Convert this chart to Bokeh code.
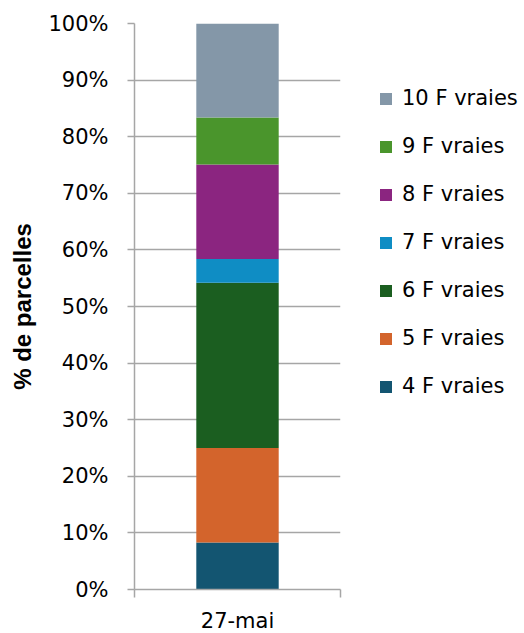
from bokeh.plotting import figure
from bokeh.models import (Range1d, FixedTicker, PrintfTickFormatter, Legend, LegendItem,
                          ColumnDataSource)
from bokeh.embed import file_html
from bokeh.resources import INLINE

categories = ["27-mai"]
series = ["4 F vraies", "5 F vraies", "6 F vraies", "7 F vraies",
          "8 F vraies", "9 F vraies", "10 F vraies"]
values = [8.3, 16.7, 29.2, 4.2, 16.7, 8.3, 16.6]
colors = ["#135571", "#D3642C", "#1B5E20", "#0F8DC4",
          "#8B2580", "#4A952C", "#8497A8"]
y_ticks = [0, 10, 20, 30, 40, 50, 60, 70, 80, 90, 100]

FONT = "DejaVu Sans"
GRID = "#A6A6A6"

p = figure(frame_width=206, frame_height=566, output_backend="svg", toolbar_location=None,
           x_range=Range1d(0, 1), y_range=Range1d(0, 100),
           min_border_left=134, min_border_right=184, min_border_top=23,
           min_border_bottom=44)
p.outline_line_color = None
p.xgrid.grid_line_color = None
p.ygrid.grid_line_color = GRID
p.ygrid.grid_line_width = 1.5

renderers = []
bottom = 0.0
for name, v, c in zip(series, values, colors):
    src = ColumnDataSource(dict(x=[0.5], b=[bottom], t=[bottom + v]))
    r = p.vbar(x="x", bottom="b", top="t", width=0.4, source=src,
               fill_color=c, line_color=None)
    renderers.append((name, r))
    bottom += v

# y axis
p.yaxis.ticker = FixedTicker(ticks=y_ticks)
p.yaxis.formatter = PrintfTickFormatter(format="%d%%")
p.yaxis.axis_line_color = GRID
p.yaxis.axis_line_width = 1.5
p.yaxis.major_tick_line_color = GRID
p.yaxis.major_tick_line_width = 1.5
p.yaxis.major_tick_out = 7
p.yaxis.major_tick_in = 0
p.yaxis.minor_tick_line_color = None
p.yaxis.major_label_text_font = FONT
p.yaxis.major_label_text_font_size = "21px"
p.yaxis.major_label_text_color = "#000000"
p.yaxis.major_label_standoff = 19
p.yaxis.axis_label = "% de parcelles"
p.yaxis.axis_label_text_font = "Liberation Sans"
p.yaxis.axis_label_text_font_size = "24px"
p.yaxis.axis_label_text_font_style = "bold"
p.yaxis.axis_label_text_color = "#000000"
p.yaxis.axis_label_standoff = 9

# x axis
p.xaxis.ticker = FixedTicker(ticks=[0.5], minor_ticks=[0, 1])
p.xaxis.major_label_overrides = {0.5: categories[0]}
p.xaxis.axis_line_color = GRID
p.xaxis.axis_line_width = 1.5
p.xaxis.major_tick_line_color = None
p.xaxis.minor_tick_line_color = GRID
p.xaxis.minor_tick_line_width = 1.5
p.xaxis.minor_tick_out = 8
p.xaxis.minor_tick_in = 0
p.xaxis.major_label_text_font = FONT
p.xaxis.major_label_text_font_size = "21px"
p.xaxis.major_label_text_color = "#000000"
p.xaxis.major_label_standoff = 11

items = [LegendItem(label=n, renderers=[r]) for n, r in reversed(renderers)]
legend = Legend(items=items, location=(38, 191), border_line_color=None,
                background_fill_alpha=0, padding=0, margin=0,
                glyph_width=15, glyph_height=15, label_height=20,
                label_standoff=9, spacing=24,
                label_text_font=FONT, label_text_font_size="21px",
                label_text_color="#000000")
p.add_layout(legend, "right")

open("out.html", "w").write(file_html(p, INLINE))
